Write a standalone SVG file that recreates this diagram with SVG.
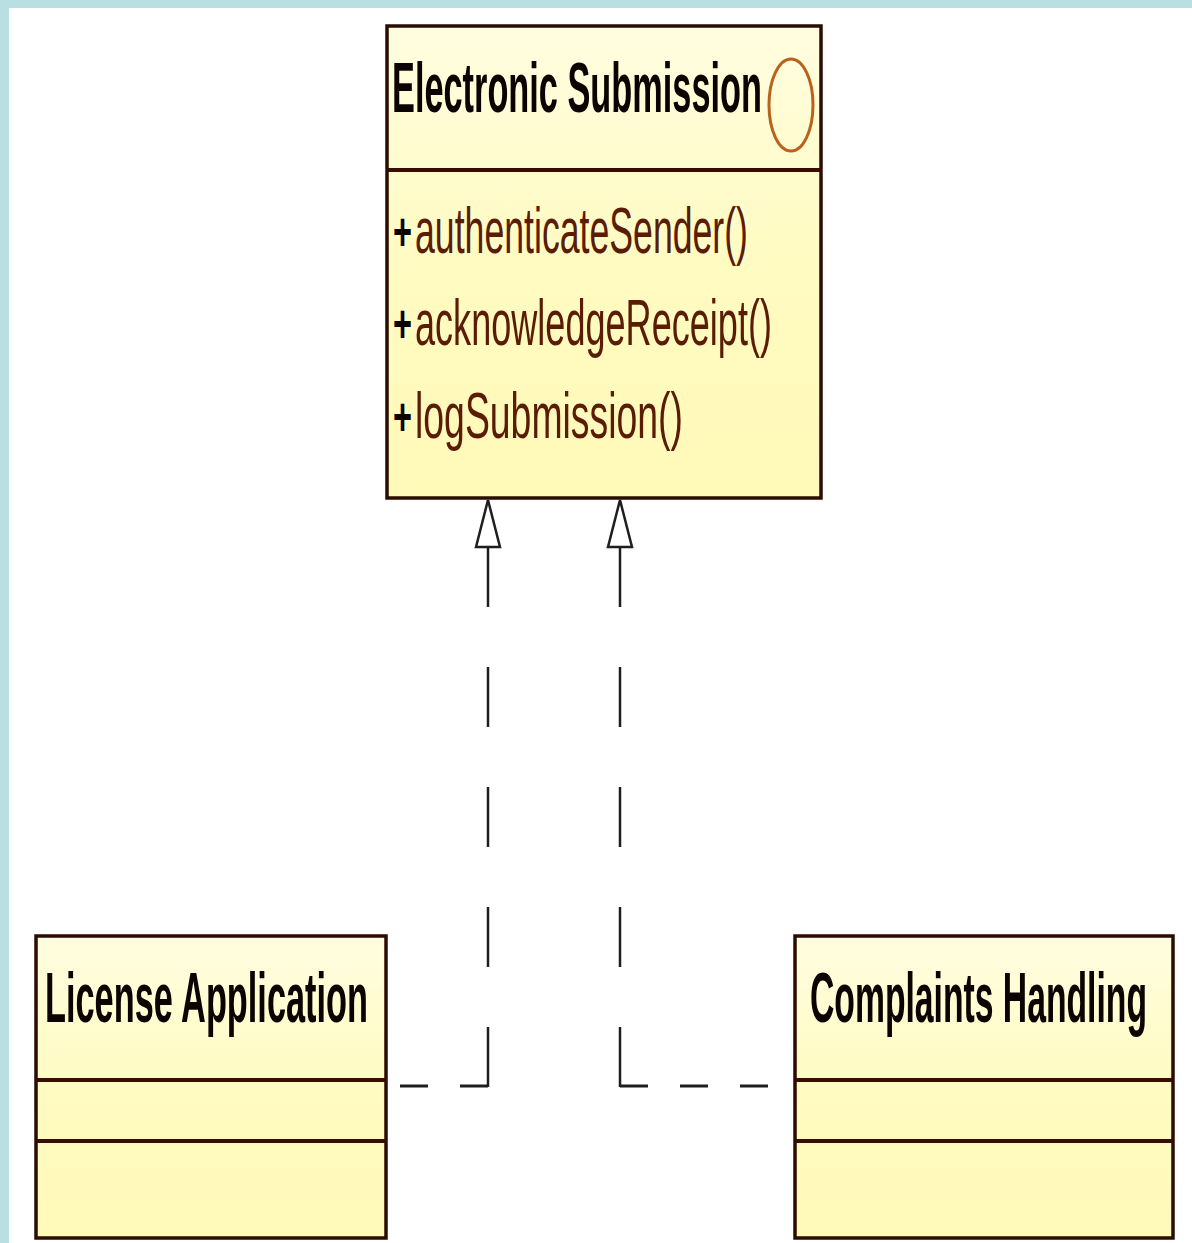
<svg xmlns="http://www.w3.org/2000/svg" width="1192" height="1243" viewBox="0 0 1192 1243">
  <defs>
    <linearGradient id="boxFill" x1="0" y1="0" x2="0" y2="1">
      <stop offset="0" stop-color="#fffde0"/>
      <stop offset="0.5" stop-color="#fffbc2"/>
      <stop offset="1" stop-color="#fffab8"/>
    </linearGradient>
  </defs>
  <style>
    .box { fill: url(#boxFill); stroke: #2a0c00; stroke-width: 3.5; }
    .div { stroke: #3a0c00; stroke-width: 4; }
    .title { font-family: "Liberation Sans Narrow", "Liberation Sans", Arial, sans-serif; font-weight: bold; font-size: 70px; fill: #0a0300; }
    .op { font-family: "Liberation Sans Narrow", "Liberation Sans", Arial, sans-serif; font-size: 64px; fill: #5a1c04; }
    .plus { font-family: "Liberation Sans", Arial, sans-serif; font-weight: bold; font-size: 54px; fill: #0a0300; }
    .dashv { fill: none; stroke: #1e1e1e; stroke-width: 2.5; stroke-dasharray: 60 60; }
    .dashh { fill: none; stroke: #1e1e1e; stroke-width: 3; stroke-dasharray: 28 32; }
    .head { fill: #ffffff; stroke: #1e1e1e; stroke-width: 2.5; }
  </style>
  <rect x="0" y="0" width="1192" height="1243" fill="#ffffff"/>
  <rect x="0" y="0" width="1192" height="8" fill="#b8dfe2"/>
  <rect x="0" y="0" width="9" height="1243" fill="#b8dfe2"/>

  <g id="electronic-submission">
    <rect class="box" x="387" y="26" width="434" height="472"/>
    <line class="div" x1="387" y1="170" x2="821" y2="170"/>
    <g transform="scale(0.5,1)">
      <text class="title" x="784" y="112" textLength="740" lengthAdjust="spacingAndGlyphs">Electronic Submission</text>
      <text class="plus" x="786" y="250" textLength="38" lengthAdjust="spacingAndGlyphs">+</text>
      <text class="op" x="830" y="253" textLength="666" lengthAdjust="spacingAndGlyphs">authenticateSender()</text>
      <text class="plus" x="786" y="342" textLength="38" lengthAdjust="spacingAndGlyphs">+</text>
      <text class="op" x="830" y="345" textLength="714" lengthAdjust="spacingAndGlyphs">acknowledgeReceipt()</text>
      <text class="plus" x="786" y="435" textLength="38" lengthAdjust="spacingAndGlyphs">+</text>
      <text class="op" x="830" y="438" textLength="536" lengthAdjust="spacingAndGlyphs">logSubmission()</text>
    </g>
    <ellipse cx="791" cy="105" rx="22" ry="46" fill="none" stroke="#b8621c" stroke-width="3"/>
  </g>

  <g id="license-application">
    <rect class="box" x="36" y="936" width="350" height="302"/>
    <line class="div" x1="36" y1="1080" x2="386" y2="1080"/>
    <line class="div" x1="36" y1="1141" x2="386" y2="1141"/>
    <text class="title" transform="scale(0.5,1)" x="90" y="1022" textLength="646" lengthAdjust="spacingAndGlyphs">License Application</text>
  </g>

  <g id="complaints-handling">
    <rect class="box" x="795" y="936" width="378" height="302"/>
    <line class="div" x1="795" y1="1080" x2="1173" y2="1080"/>
    <line class="div" x1="795" y1="1141" x2="1173" y2="1141"/>
    <text class="title" transform="scale(0.5,1)" x="1620" y="1022" textLength="674" lengthAdjust="spacingAndGlyphs">Complaints Handling</text>
  </g>

  <g id="connectors">
    <path class="dashv" d="M488 547 V1087"/>
    <path class="dashh" d="M488 1086 H398"/>
    <polygon class="head" points="488,500 476,547 500,547"/>
    <path class="dashv" d="M620 547 V1087"/>
    <path class="dashh" d="M620 1086 H770"/>
    <polygon class="head" points="620,500 608,547 632,547"/>
  </g>
</svg>
